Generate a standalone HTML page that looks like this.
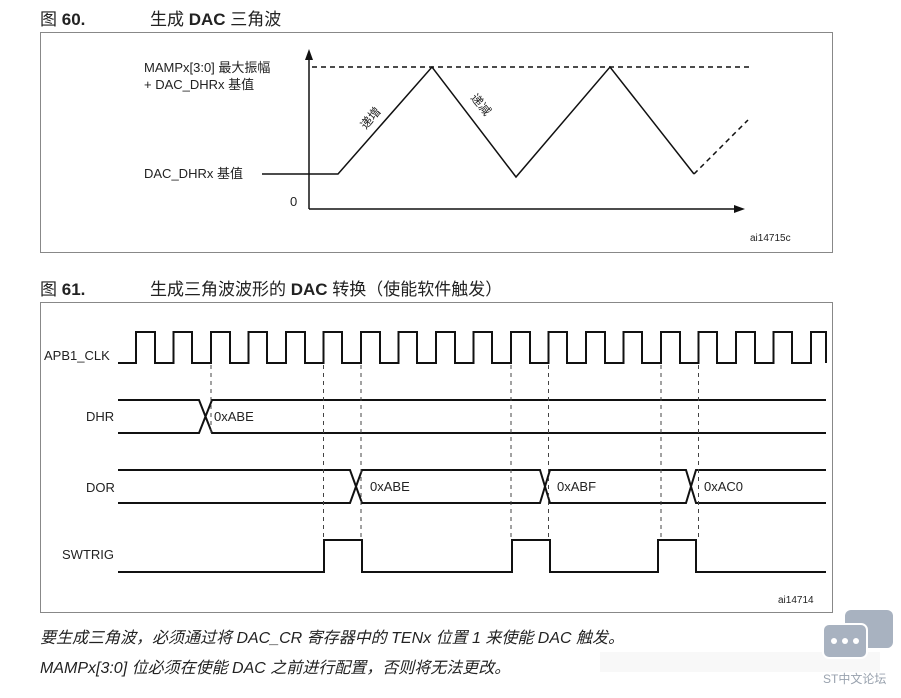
<!DOCTYPE html>
<html><head><meta charset="utf-8"><style>
body{margin:0;background:#fff;width:901px;height:693px;overflow:hidden;font-family:"Liberation Sans","Noto Sans CJK SC",sans-serif}
</style></head><body>
<svg width="901" height="693" viewBox="0 0 901 693" xmlns="http://www.w3.org/2000/svg" font-family="Liberation Sans, Noto Sans CJK SC, sans-serif">
<text x="40" y="25" font-size="17" fill="#222"><tspan>图 </tspan><tspan font-weight="bold">60.</tspan></text>
<text x="150" y="25" font-size="17" fill="#222"><tspan>生成 </tspan><tspan font-weight="bold">DAC</tspan><tspan> 三角波</tspan></text>
<rect x="40.5" y="32.5" width="792" height="220" fill="none" stroke="#888"/>
<text x="144" y="72" font-size="13" fill="#222">MAMPx[3:0] 最大振幅</text>
<text x="144" y="89" font-size="13" fill="#222">+ DAC_DHRx 基值</text>
<text x="144" y="178" font-size="13" fill="#222">DAC_DHRx 基值</text>
<text x="290" y="206" font-size="13" fill="#222">0</text>
<g stroke="#111" stroke-width="1.5" fill="none">
<line x1="309" y1="58" x2="309" y2="209"/>
<line x1="309" y1="209" x2="736" y2="209"/>
<line x1="312" y1="67" x2="750" y2="67" stroke-dasharray="5,4"/>
<polyline points="262,174 338,174 432,67 516,177 610,67 694,174"/>
<line x1="694" y1="174" x2="748" y2="120" stroke-dasharray="5,4"/>
</g>
<polygon points="309,49 305,60 313,60" fill="#111"/>
<polygon points="745,209 734,205 734,213" fill="#111"/>
<text x="0" y="0" font-size="12" fill="#222" transform="translate(366,130) rotate(-50)">递增</text>
<text x="0" y="0" font-size="12" fill="#222" transform="translate(470,98) rotate(50)">递减</text>
<text x="750" y="241" font-size="10" fill="#222">ai14715c</text>

<text x="40" y="295" font-size="17" fill="#222"><tspan>图 </tspan><tspan font-weight="bold">61.</tspan></text>
<text x="150" y="295" font-size="17" fill="#222"><tspan>生成三角波波形的 </tspan><tspan font-weight="bold">DAC</tspan><tspan> 转换（使能软件触发）</tspan></text>
<rect x="40.5" y="302.5" width="792" height="310" fill="none" stroke="#888"/>
<g font-size="13" fill="#222">
<text x="44" y="360">APB1_CLK</text>
<text x="86" y="421">DHR</text>
<text x="86" y="492">DOR</text>
<text x="62" y="559">SWTRIG</text>
<text x="214" y="421">0xABE</text>
<text x="370" y="491">0xABE</text>
<text x="557" y="491">0xABF</text>
<text x="704" y="491">0xAC0</text>
</g>
<g stroke="#111" stroke-width="2" fill="none">
<polyline points="118,363 136,363 136,332 155,332 155,363 173.5,363 173.5,332 192,332 192,363 211,363 211,332 230,332 230,363 248.5,363 248.5,332 267,332 267,363 286,363 286,332 305,332 305,363 323.5,363 323.5,332 342,332 342,363 361,363 361,332 380,332 380,363 398.5,363 398.5,332 417,332 417,363 436,363 436,332 455,332 455,363 473.5,363 473.5,332 492,332 492,363 511,363 511,332 530,332 530,363 548.5,363 548.5,332 567,332 567,363 586,363 586,332 605,332 605,363 623.5,363 623.5,332 642,332 642,363 661,363 661,332 680,332 680,363 698.5,363 698.5,332 717,332 717,363 736,363 736,332 755,332 755,363 773.5,363 773.5,332 792,332 792,363 811,363 811,332 826,332 826,363"/>
<polyline points="118,400 199,400 212,433 826,433"/>
<polyline points="118,433 199,433 212,400 826,400"/>
<polyline points="118,470 350,470 362,503 540,503 550,470 686,470 696,503 826,503"/>
<polyline points="118,503 350,503 362,470 540,470 550,503 686,503 696,470 826,470"/>
<polyline points="118,572 324,572 324,540 362,540 362,572 512,572 512,540 550,540 550,572 658,572 658,540 696,540 696,572 826,572"/>
</g>
<g stroke="#444" stroke-width="1" stroke-dasharray="4,4">
<line x1="211" y1="365" x2="211" y2="435"/>
<line x1="323.5" y1="365" x2="323.5" y2="540"/>
<line x1="361" y1="365" x2="361" y2="540"/>
<line x1="511" y1="365" x2="511" y2="540"/>
<line x1="548.5" y1="365" x2="548.5" y2="540"/>
<line x1="661" y1="365" x2="661" y2="540"/>
<line x1="698.5" y1="365" x2="698.5" y2="540"/>
</g>
<text x="778" y="603" font-size="10" fill="#222">ai14714</text>
<text x="40" y="643" font-size="16" font-style="italic" fill="#222">要生成三角波，必须通过将 DAC_CR 寄存器中的 TENx 位置 1 来使能 DAC 触发。</text>
<text x="40" y="673" font-size="16" font-style="italic" fill="#222">MAMPx[3:0] 位必须在使能 DAC 之前进行配置，否则将无法更改。</text>
<rect x="600" y="652" width="280" height="20" fill="#f6f6f6" opacity="0.8"/>
<rect x="845" y="610" width="48" height="38" rx="6" fill="#a8b2c0"/>
<rect x="823" y="624" width="44" height="34" rx="6" fill="#a8b2c0" stroke="#fff" stroke-width="2"/>
<circle cx="834" cy="641" r="3" fill="#fff"/><circle cx="845" cy="641" r="3" fill="#fff"/><circle cx="856" cy="641" r="3" fill="#fff"/>
<text x="823" y="683" font-size="12" fill="#99a2ae">ST中文论坛</text>
</svg>
</body></html>
